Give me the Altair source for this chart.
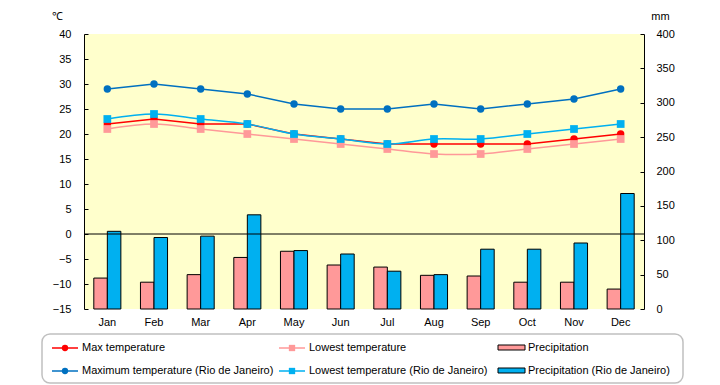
import altair as alt
import pandas as pd

months = ["Jan", "Feb", "Mar", "Apr", "May", "Jun", "Jul", "Aug", "Sep", "Oct", "Nov", "Dec"]
max_temp = [22, 23, 22, 22, 20, 19, 18, 18, 18, 18, 19, 20]
low_temp = [21, 22, 21, 20, 19, 18, 17, 16, 16, 17, 18, 19]
rio_max_temp = [29, 30, 29, 28, 26, 25, 25, 26, 25, 26, 27, 29]
rio_low_temp = [23, 24, 23, 22, 20, 19, 18, 19, 19, 20, 21, 22]
precip = [45, 39, 50, 75, 84, 64, 61, 49, 48, 39, 39, 29]
rio_precip = [113, 104, 106, 137, 85, 80, 55, 50, 87, 87, 96, 168]

temp_names = ["Max temperature", "Lowest temperature",
              "Maximum temperature (Rio de Janeiro)", "Lowest temperature (Rio de Janeiro)"]
precip_names = ["Precipitation", "Precipitation (Rio de Janeiro)"]
temp_values = [max_temp, low_temp, rio_max_temp, rio_low_temp]
precip_values = [precip, rio_precip]

temp_df = pd.DataFrame({
    "month": months * 4,
    "series": [n for n in temp_names for _ in months],
    "temp": [v for vals in temp_values for v in vals],
})
precip_df = pd.DataFrame({
    "month": months * 2,
    "series": [n for n in precip_names for _ in months],
    "mm": [v for vals in precip_values for v in vals],
})

# styles
FONT = "Liberation Sans"
temp_colors = ["#FF0000", "#FF9999", "#0070C0", "#00B0F0"]
temp_shapes = ["circle", "square", "circle", "square"]
temp_interp = ["linear", "catmull-rom", "linear", "catmull-rom"]
precip_colors = ["#FF9999", "#00B0F0"]

x_enc = alt.X(
    "month:N", sort=months,
    scale=alt.Scale(paddingInner=0.42, paddingOuter=0.21),
    axis=alt.Axis(title=None, domain=False, ticks=False, labelAngle=0, labelPadding=7,
                  labelFontSize=11, labelFont=FONT, labelColor="black", grid=False),
)

y_temp = alt.Y(
    "temp:Q",
    scale=alt.Scale(domain=[-15, 40], nice=False, zero=False),
    axis=alt.Axis(orient="left", values=list(range(-15, 41, 5)), title="℃", titleAngle=0,
                  titleX=-27, titleY=-18, titleAlign="center", titleBaseline="middle",
                  titleFont=FONT, titleFontSize=11, titleFontWeight="normal", titleColor="black",
                  labelFont=FONT, labelFontSize=11, labelColor="black", labelPadding=13,
                  ticks=False, tickSize=0, domainColor="black", domainWidth=1,
                  grid=True, gridColor="black", gridOpacity=1, gridWidth=1, gridDash=[4, 2000]),
)

bars = alt.Chart(precip_df).mark_bar(stroke="black", strokeWidth=1).encode(
    x=x_enc,
    xOffset=alt.XOffset("series:N", sort=precip_names),
    y=alt.Y(
        "mm:Q",
        scale=alt.Scale(domain=[0, 400], nice=False),
        axis=alt.Axis(orient="right", values=list(range(0, 401, 50)), title="mm", titleAngle=0,
                      titleX=16, titleY=-18, titleAlign="center", titleBaseline="middle",
                      titleFont=FONT, titleFontSize=11, titleFontWeight="normal", titleColor="black",
                      labelFont=FONT, labelFontSize=11, labelColor="black", labelPadding=12,
                      ticks=False, tickSize=0, domainColor="black", domainWidth=1,
                      grid=True, gridColor="black", gridOpacity=1, gridWidth=1, gridDash=[4, 2000]),
    ),
    fill=alt.Fill("series:N", scale=alt.Scale(domain=precip_names, range=precip_colors), legend=None),
)

zero_rule = alt.Chart(pd.DataFrame({"temp": [0]})).mark_rule(color="black", strokeWidth=1).encode(
    y=y_temp
)

temp_layers = [zero_rule]
for name, color, shape, interp in zip(temp_names, temp_colors, temp_shapes, temp_interp):
    base = alt.Chart(temp_df).transform_filter(alt.datum.series == name)
    temp_layers.append(base.mark_line(color=color, strokeWidth=1.5, interpolate=interp).encode(x=x_enc, y=y_temp))
for name, color, shape in zip(temp_names, temp_colors, temp_shapes):
    base = alt.Chart(temp_df).transform_filter(alt.datum.series == name)
    temp_layers.append(base.mark_point(filled=True, shape=shape, size=55 if shape == "circle" else 60,
                                       color=color, opacity=1).encode(x=x_enc, y=y_temp))
temp_layer = alt.layer(*temp_layers)

# legend (decoration, positioned relative to the plot area)
LEG_COL_X = [-32, 195, 414]
LEG_ROW_Y = [314, 337]
legend_layers = [
    alt.Chart(pd.DataFrame({"a": [0]})).mark_rect(
        fill="white", stroke="#C0C0C0", strokeWidth=1.5, cornerRadius=8
    ).encode(x=alt.value(-42), x2=alt.value(599), y=alt.value(300), y2=alt.value(349))
]
for k, (name, color, shape) in enumerate(zip(temp_names, temp_colors, temp_shapes)):
    col, row = k % 2, k // 2
    x0, y0 = LEG_COL_X[col], LEG_ROW_Y[row]
    one = pd.DataFrame({"label": [name]})
    legend_layers.append(alt.Chart(one).mark_rule(color=color, strokeWidth=1.5).encode(
        x=alt.value(x0), x2=alt.value(x0 + 26), y=alt.value(y0)))
    legend_layers.append(alt.Chart(one).mark_point(filled=True, shape=shape, size=40, color=color, opacity=1).encode(
        x=alt.value(x0 + 13), y=alt.value(y0)))
    legend_layers.append(alt.Chart(one).mark_text(align="left", baseline="middle", font=FONT, fontSize=11, color="black").encode(
        x=alt.value(x0 + 30), y=alt.value(y0), text="label:N"))
for row, (name, color) in enumerate(zip(precip_names, precip_colors)):
    x0, y0 = LEG_COL_X[2], LEG_ROW_Y[row]
    one = pd.DataFrame({"label": [name]})
    legend_layers.append(alt.Chart(one).mark_rect(fill=color, stroke="black", strokeWidth=1).encode(
        x=alt.value(x0), x2=alt.value(x0 + 27), y=alt.value(y0 - 3), y2=alt.value(y0 + 2)))
    legend_layers.append(alt.Chart(one).mark_text(align="left", baseline="middle", font=FONT, fontSize=11, color="black").encode(
        x=alt.value(x0 + 30), y=alt.value(y0), text="label:N"))

chart = alt.layer(bars, temp_layer, *legend_layers).resolve_scale(y="independent").properties(
    width=560, height=275,
    autosize=alt.AutoSizeParams(type="none"),
    padding={"left": 76, "top": 26, "right": 66, "bottom": 75},
    background="white",
).configure_view(fill="#FFFFCC", stroke=None)

chart.save("out.html", embed_options={"renderer": "svg", "actions": False})
